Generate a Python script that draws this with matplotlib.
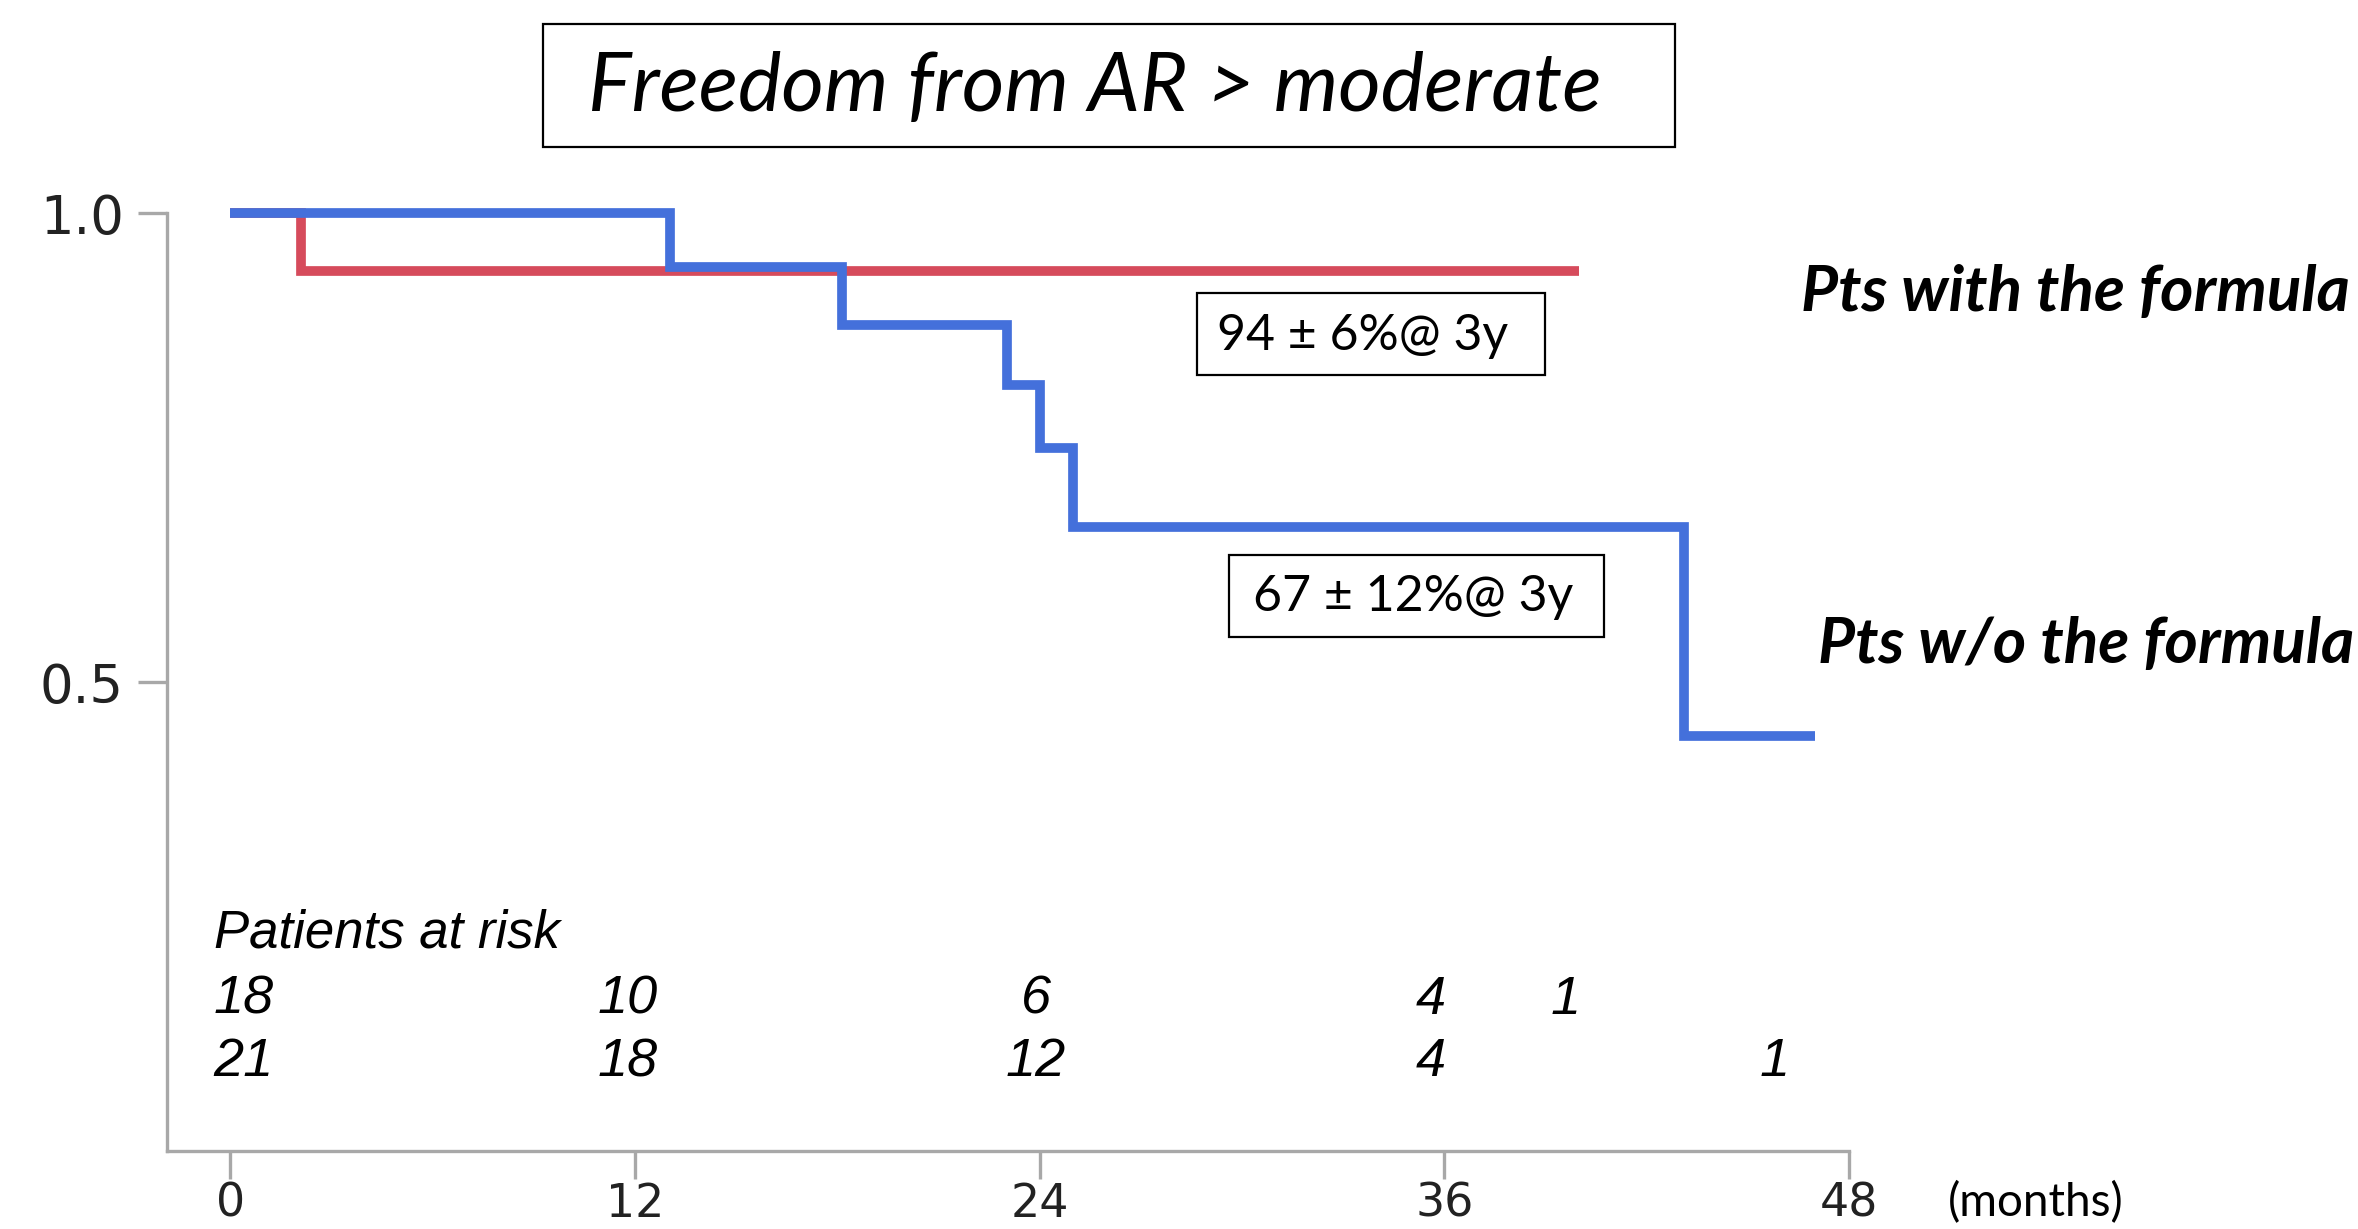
import matplotlib
matplotlib.use("Agg")
import matplotlib.pyplot as plt
from matplotlib import font_manager
from matplotlib.patches import Rectangle

# ---------------- data ----------------
time_with = [0, 2.1, 40.0]
surv_with = [1.0, 0.938, 0.938]

time_wo = [0, 13.05, 18.15, 23.03, 24.02, 25.0, 43.1, 47.0]
surv_wo = [1.0, 0.942, 0.881, 0.817, 0.750, 0.665, 0.442, 0.442]

x_ticks = [0, 12, 24, 36, 48]
y_ticks = [0.5, 1.0]
y_tick_labels = ["0.5", "1.0"]

risk_times_with = [0.4, 11.8, 23.9, 35.6, 39.6]
risk_with = [18, 10, 6, 4, 1]
risk_times_wo = [0.4, 11.8, 23.9, 35.6, 45.8]
risk_wo = [21, 18, 12, 4, 1]

title = "Freedom from AR > moderate"
label_with = "Pts with the formula"
label_wo = "Pts w/o the formula"
ann_with = "94 \u00b1 6%@ 3y"
ann_wo = "67 \u00b1 12%@ 3y"

# ---------------- fonts ----------------
def has_font(name):
    try:
        font_manager.findfont(font_manager.FontProperties(family=name), fallback_to_default=False)
        return True
    except Exception:
        return False

narrow = "Liberation Sans Narrow" if has_font("Liberation Sans Narrow") else "Liberation Sans"
human = "Lato" if has_font("Lato") else "Open Sans"

W, H = 2358, 1229
fig = plt.figure(figsize=(W / 100, H / 100), dpi=100)

def fx(px):
    return px / W

def fy(py):
    return 1 - py / H

ax_left, ax_right, ax_top, ax_bottom = 167, 1849, 213, 1151
ax = fig.add_axes([fx(ax_left), fy(ax_bottom), fx(ax_right - ax_left), (ax_bottom - ax_top) / H])

red = "#D64B5C"
blue = "#4470DB"
grey = "#A8A8A8"

ax.step(time_with, surv_with, where="post", color=red, lw=7, clip_on=False,
        solid_capstyle="butt", solid_joinstyle="miter", zorder=3)
ax.step(time_wo, surv_wo, where="post", color=blue, lw=7, clip_on=False,
        solid_capstyle="butt", solid_joinstyle="miter", zorder=4)

ax.set_xlim(-1.87, 48)
ax.set_ylim(0, 1.0)
ax.set_xticks(x_ticks)
ax.set_yticks(y_ticks)
ax.set_yticklabels(y_tick_labels)

for s in ["top", "right"]:
    ax.spines[s].set_visible(False)
for s in ["left", "bottom"]:
    ax.spines[s].set_color(grey)
    ax.spines[s].set_linewidth(2.4)
    ax.spines[s].set_clip_on(False)

ax.tick_params(axis="y", length=21, width=2.4, color=grey, pad=10, labelsize=38,
               labelcolor="#222222")
ax.tick_params(axis="x", length=20, width=2.4, color=grey, pad=2, labelsize=33,
               labelcolor="#222222")
for lab in ax.get_xticklabels() + ax.get_yticklabels():
    lab.set_family("DejaVu Sans")

# at-risk table
ax.text(-0.49, 0.232, "Patients at risk", fontsize=38, style="italic",
        family=narrow, ha="left", va="center")
for t, n in zip(risk_times_with, risk_with):
    ax.text(t, 0.161, str(n), fontsize=39, style="italic", family=narrow,
            ha="center", va="center")
for t, n in zip(risk_times_wo, risk_wo):
    ax.text(t, 0.0945, str(n), fontsize=39, style="italic", family=narrow,
            ha="center", va="center")

# title box
fig.patches.append(Rectangle((fx(543), fy(147)), fx(1675 - 543), (147 - 24) / H,
                             transform=fig.transFigure, fill=False,
                             edgecolor="black", lw=1.6))
fig.text(fx(1095), fy(88), title, fontsize=59, style="italic", family=human,
         ha="center", va="center")

# annotation boxes
fig.patches.append(Rectangle((fx(1197), fy(375)), fx(1545 - 1197), (375 - 293) / H,
                             transform=fig.transFigure, fill=False,
                             edgecolor="black", lw=1.6))
fig.text(fx(1363), fy(336), ann_with, fontsize=36, family=human,
         ha="center", va="center")
fig.patches.append(Rectangle((fx(1229), fy(637)), fx(1604 - 1229), (637 - 555) / H,
                             transform=fig.transFigure, fill=False,
                             edgecolor="black", lw=1.6))
fig.text(fx(1413), fy(597), ann_wo, fontsize=36, family=human,
         ha="center", va="center")

# group labels
fig.text(fx(2350), fy(292), label_with, fontsize=46, style="italic",
         weight="bold", family=human, ha="right", va="center")
fig.text(fx(2354), fy(645), label_wo, fontsize=46, style="italic",
         weight="bold", family=human, ha="right", va="center")

fig.text(fx(1948), fy(1203), "(months)", fontsize=33, family=human,
         ha="left", va="center")

fig.savefig("out.png", dpi=100, facecolor="white")
